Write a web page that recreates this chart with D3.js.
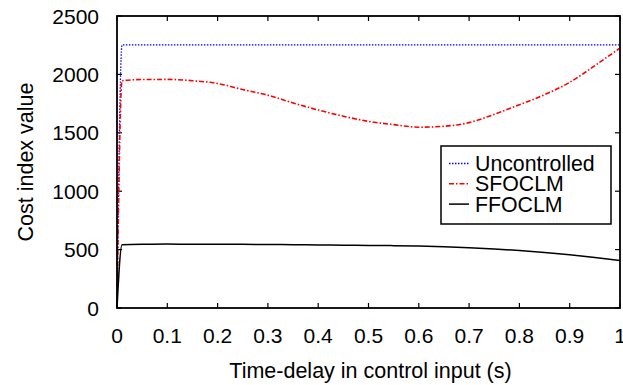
<!DOCTYPE html>
<html>
<head>
<meta charset="utf-8">
<script src="https://cdn.jsdelivr.net/npm/d3@7"></script>
<style>
  body { margin: 0; background: #fff; }
  text { font-family: "Liberation Sans", Arial, sans-serif; fill: #000; }
</style>
</head>
<body>
<svg id="chart" width="623" height="385"></svg>
<script>
// time-delay values (s)
var delays = [0, 0.01, 0.05, 0.1, 0.15, 0.2, 0.25, 0.3, 0.35, 0.4, 0.45, 0.5,
              0.55, 0.6, 0.65, 0.7, 0.75, 0.8, 0.85, 0.9, 0.95, 1.0];
var uncontrolled = [0, 2252, 2252, 2252, 2252, 2252, 2252, 2252, 2252, 2252, 2252, 2252,
                    2252, 2252, 2252, 2252, 2252, 2252, 2252, 2252, 2252, 2252];
var sfoclm = [0, 1946, 1956, 1957, 1946, 1922, 1870, 1822, 1756, 1695, 1642, 1598,
              1570, 1548, 1556, 1587, 1658, 1740, 1826, 1932, 2075, 2226];
var ffoclm = [0, 542, 546, 547, 546, 546, 545, 544, 542, 540, 538, 536,
              534, 530, 524, 516, 505, 492, 475, 455, 432, 406];
var xTicks = [0, 0.1, 0.2, 0.3, 0.4, 0.5, 0.6, 0.7, 0.8, 0.9, 1];
var yTicks = [0, 500, 1000, 1500, 2000, 2500];

var series = [
    { name: "Uncontrolled", values: uncontrolled, color: "#0000ff", dash: "1.5,1.5", width: 1.3 },
    { name: "SFOCLM", values: sfoclm, color: "#ff0000", dash: "5,2,1.5,2", width: 1.6 },
    { name: "FFOCLM", values: ffoclm, color: "#000000", dash: null, width: 1.5 }
];

var margin = { left: 117, top: 16, right: 620, bottom: 308 };
var svg = d3.select("#chart");

var x = d3.scaleLinear().domain([0, 1]).range([margin.left, margin.right]);
var y = d3.scaleLinear().domain([0, 2500]).range([margin.bottom, margin.top]);

// ticks (inward, mirrored on all sides)
var tickLen = 5;
var g = svg.append("g");
xTicks.forEach(function (t) {
    g.append("line").attr("x1", x(t)).attr("x2", x(t))
        .attr("y1", margin.bottom).attr("y2", margin.bottom - tickLen)
        .attr("stroke", "#000").attr("stroke-width", 1.2);
    g.append("line").attr("x1", x(t)).attr("x2", x(t))
        .attr("y1", margin.top).attr("y2", margin.top + tickLen)
        .attr("stroke", "#000").attr("stroke-width", 1.2);
    g.append("text").attr("x", x(t)).attr("y", 343)
        .attr("text-anchor", "middle").style("font-size", "21px")
        .text(t === 0 ? "0" : t === 1 ? "1" : d3.format(".1f")(t));
});
yTicks.forEach(function (t) {
    g.append("line").attr("x1", margin.left).attr("x2", margin.left + tickLen)
        .attr("y1", y(t)).attr("y2", y(t))
        .attr("stroke", "#000").attr("stroke-width", 1.2);
    g.append("line").attr("x1", margin.right).attr("x2", margin.right - tickLen)
        .attr("y1", y(t)).attr("y2", y(t))
        .attr("stroke", "#000").attr("stroke-width", 1.2);
    g.append("text").attr("x", 99).attr("y", y(t) + 7.5)
        .attr("text-anchor", "end").style("font-size", "21px")
        .text(t);
});

// curves
var line = d3.line()
    .x(function (d) { return x(d[0]); })
    .y(function (d) { return y(d[1]); })
    .curve(d3.curveMonotoneX);

series.forEach(function (s) {
    svg.append("path")
        .datum(delays.map(function (t, i) { return [t, s.values[i]]; }))
        .attr("fill", "none")
        .attr("stroke", s.color)
        .attr("stroke-width", s.width)
        .attr("stroke-dasharray", s.dash)
        .attr("d", line);
});

// frame
svg.append("rect")
    .attr("x", margin.left).attr("y", margin.top)
    .attr("width", margin.right - margin.left)
    .attr("height", margin.bottom - margin.top)
    .attr("fill", "none").attr("stroke", "#000").attr("stroke-width", 1.8);

// legend
var legend = svg.append("g");
legend.append("rect")
    .attr("x", 441).attr("y", 146).attr("width", 170).attr("height", 78)
    .attr("fill", "#fff").attr("stroke", "#000").attr("stroke-width", 1.5);
series.forEach(function (s, i) {
    var cy = 163.5 + i * 20.3;
    legend.append("line")
        .attr("x1", 449).attr("x2", 469).attr("y1", cy).attr("y2", cy)
        .attr("stroke", s.color).attr("stroke-width", s.width)
        .attr("stroke-dasharray", s.dash);
    legend.append("text").attr("x", 475).attr("y", cy + 7.5)
        .style("font-size", "21.3px").text(s.name);
});

// axis titles
svg.append("text").attr("x", x(0.5) + 2).attr("y", 378)
    .attr("text-anchor", "middle").style("font-size", "21.5px")
    .text("Time-delay in control input (s)");
svg.append("text")
    .attr("transform", "translate(33," + ((margin.top + margin.bottom) / 2) + ") rotate(-90)")
    .attr("text-anchor", "middle").style("font-size", "21.5px")
    .text("Cost index value");
</script>
</body>
</html>
